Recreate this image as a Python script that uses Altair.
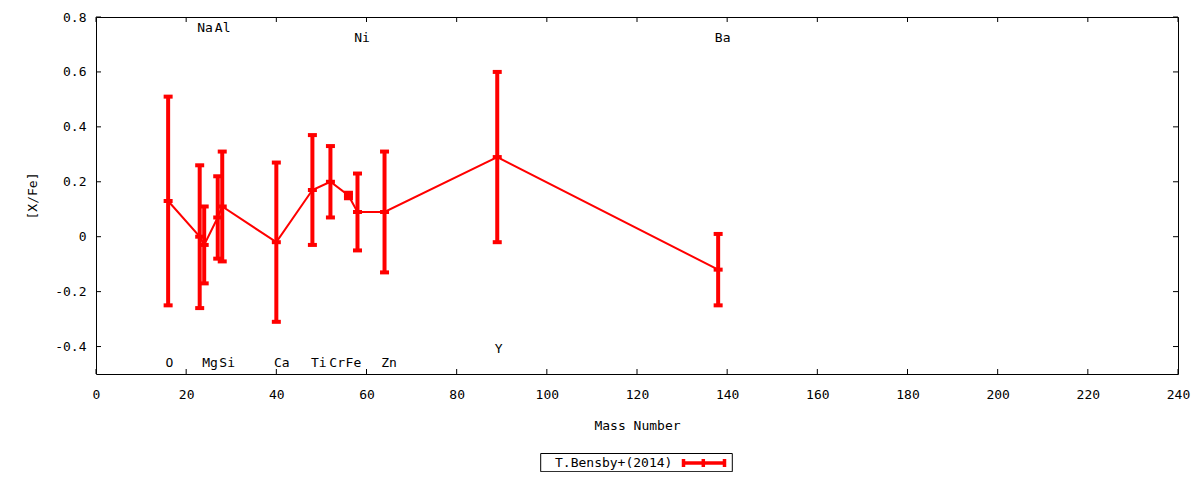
import altair as alt
import pandas as pd

# ---- data ----
elements = ["O", "Na", "Mg", "Al", "Si", "Ca", "Ti", "Cr", "Fe", "Ni", "Zn", "Y", "Ba"]
mass = [16, 23, 24, 27, 28, 40, 48, 52, 56, 58, 64, 89, 138]
xfe = [0.13, 0.00, -0.03, 0.07, 0.11, -0.02, 0.17, 0.20, 0.15, 0.09, 0.09, 0.29, -0.12]
err = [0.38, 0.26, 0.14, 0.15, 0.20, 0.29, 0.20, 0.13, 0.01, 0.14, 0.22, 0.31, 0.13]

label_text = ["O", "Na", "Mg", "Al", "Si", "Ca", "Ti", "Cr", "Fe", "Ni", "Zn", "Y", "Ba"]
label_x = [16.3, 24.2, 25.3, 28.1, 29.1, 41.2, 49.4, 53.5, 57.1, 59.0, 65.0, 89.3, 139.0]
label_y = [-0.46, 0.76, -0.46, 0.76, -0.46, -0.46, -0.46, -0.46, -0.46, 0.725, -0.46, -0.41, 0.725]

x_ticks = [0, 20, 40, 60, 80, 100, 120, 140, 160, 180, 200, 220, 240]
y_ticks = [-0.4, -0.2, 0, 0.2, 0.4, 0.6, 0.8]
legend_label = "T.Bensby+(2014)"

FONT = "DejaVu Sans Mono"
FS = 13
W, H = 1082, 357
RED = "#ff0000"

df = pd.DataFrame({"element": elements, "mass": mass, "xfe": xfe, "err": err})
df["lo"] = df["xfe"] - df["err"]
df["hi"] = df["xfe"] + df["err"]
lab_df = pd.DataFrame({"name": label_text, "lx": label_x, "ly": label_y})
xt_df = pd.DataFrame({"t": x_ticks})
yt_df = pd.DataFrame({"t": y_ticks})
leg_df = pd.DataFrame({"label": [legend_label]})

xscale = alt.Scale(domain=[0, 240], nice=False, zero=False)
yscale = alt.Scale(domain=[-0.5, 0.8], nice=False, zero=False)

xaxis = alt.Axis(
    values=x_ticks, format="d", ticks=False, domain=False, grid=False,
    labelPadding=14, labelFlush=False, labelOverlap=False,
    title="Mass Number", titleX=541, titleY=51,
    titleBaseline="middle", titleAlign="center",
)
yaxis = alt.Axis(
    values=y_ticks, ticks=False, domain=False, grid=False, labelPadding=10,
    labelFlush=False, labelOverlap=False,
    labelExpr="datum.value == 0 ? '0' : (datum.value < 0 ? '-' + format(-datum.value, '.1f') : format(datum.value, '.1f'))",
    title="[X/Fe]", titleX=-64, titleY=178.5, titleAngle=270,
    titleBaseline="middle", titleAlign="center",
)


def X(field):
    return alt.X(field, type="quantitative", scale=xscale, axis=xaxis)


def Y(field):
    return alt.Y(field, type="quantitative", scale=yscale, axis=yaxis)


base = alt.Chart(df)

line = base.mark_line(color=RED, strokeWidth=2).encode(
    x=X("mass"), y=Y("xfe"), order=alt.Order("mass:Q")
)
bars = base.mark_rule(color=RED, strokeWidth=4).encode(
    x=X("mass"), y=Y("lo"), y2="hi:Q"
)
caps = base.transform_fold(["lo", "hi", "xfe"], as_=["k", "v"]).mark_tick(
    orient="horizontal", size=9, thickness=4, color=RED, opacity=1
).encode(x=X("mass"), y=Y("v"))

labels = alt.Chart(lab_df).mark_text(
    font=FONT, fontSize=FS, color="black", align="center", baseline="middle"
).encode(x=X("lx"), y=Y("ly"), text="name:N")

# inward ticks on all four sides
xt_bot = alt.Chart(xt_df).mark_rule(color="black", strokeWidth=1).encode(
    x=X("t"), y=alt.value(H), y2=alt.value(H - 5)
)
xt_top = alt.Chart(xt_df).mark_rule(color="black", strokeWidth=1).encode(
    x=X("t"), y=alt.value(0), y2=alt.value(5)
)
yt_left = alt.Chart(yt_df).mark_rule(color="black", strokeWidth=1).encode(
    y=Y("t"), x=alt.value(0), x2=alt.value(5)
)
yt_right = alt.Chart(yt_df).mark_rule(color="black", strokeWidth=1).encode(
    y=Y("t"), x=alt.value(W), x2=alt.value(W - 5)
)

# legend (drawn below the plot)
LY = 446
leg = alt.Chart(leg_df)
leg_box = leg.mark_rect(fill="white", stroke="black", strokeWidth=1).encode(
    x=alt.value(444.7), x2=alt.value(636.3), y=alt.value(LY - 9.5), y2=alt.value(LY + 8.7)
)
leg_text = leg.mark_text(
    font=FONT, fontSize=FS, color="black", align="left", baseline="middle"
).encode(x=alt.value(459), y=alt.value(LY), text="label:N")
leg_h = leg.mark_rule(color=RED, strokeWidth=3.5).encode(
    x=alt.value(586), x2=alt.value(630), y=alt.value(LY)
)
leg_c1 = leg.mark_rule(color=RED, strokeWidth=3.5).encode(
    x=alt.value(587.5), y=alt.value(LY - 4), y2=alt.value(LY + 4)
)
leg_c2 = leg.mark_rule(color=RED, strokeWidth=3.5).encode(
    x=alt.value(628.5), y=alt.value(LY - 4), y2=alt.value(LY + 4)
)
leg_c3 = leg.mark_rule(color=RED, strokeWidth=3.5).encode(
    x=alt.value(607.3), y=alt.value(LY - 4), y2=alt.value(LY + 4)
)

chart = alt.layer(
    line, bars, caps, labels, xt_bot, xt_top, yt_left, yt_right,
    leg_box, leg_text, leg_h, leg_c1, leg_c2, leg_c3,
).properties(
    width=W, height=H,
    autosize=alt.AutoSizeParams(type="none"),
    padding={"left": 88, "top": 9, "right": 14, "bottom": 98},
    background="white",
).configure_view(
    stroke="black", strokeWidth=1
).configure_axis(
    labelFont=FONT, labelFontSize=FS, labelColor="black",
    titleFont=FONT, titleFontSize=FS, titleFontWeight="normal", titleColor="black",
)

chart.save("out.html", embed_options={"renderer": "svg", "actions": False})
